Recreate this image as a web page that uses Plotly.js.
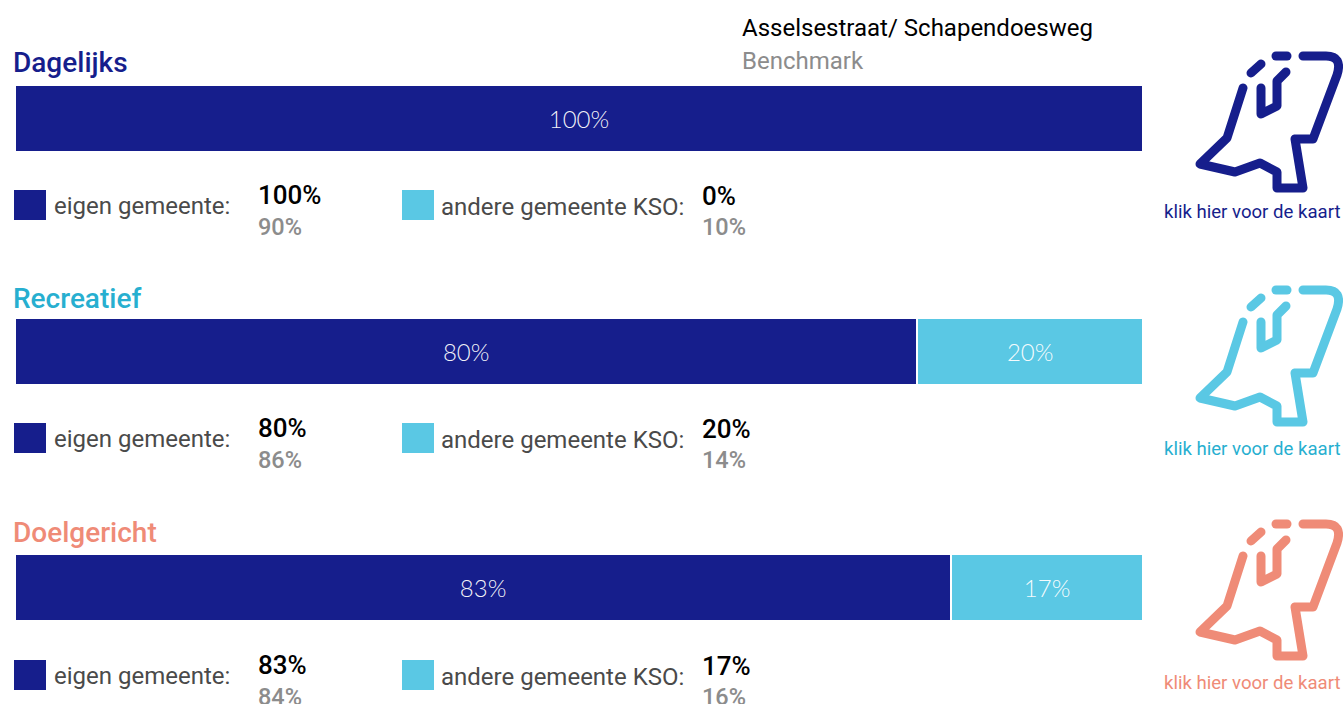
<!DOCTYPE html>
<html><head><meta charset="utf-8">
<script src="https://cdn.plot.ly/plotly-3.0.1.min.js"></script>
<style>html,body{margin:0;padding:0;background:#fff;overflow:hidden}
.shapelayer path{stroke-linecap:round;stroke-linejoin:round}</style>
</head><body><div id="chart" style="width:1343px;height:704px"></div>
<script>
const categories = ['Dagelijks','Recreatief','Doelgericht'];
const eigenGemeente = [100,80,83];
const andereGemeente = [0,20,17];
const benchEigen = [90,86,84];
const benchAndere = [10,14,16];
const seriesNames = ['eigen gemeente:','andere gemeente KSO:'];
const mapLabel = 'klik hier voor de kaart';
const locationTitle = 'Asselsestraat/ Schapendoesweg';
const benchTitle = 'Benchmark';

const W=1343,H=704,L=15,R=1143;
const NAVY='#161E8C',SKY='#5AC8E4',SALMON='#EF8B77';
const catColors=[NAVY,'#27AFD0',SALMON];
const iconColors=[NAVY,SKY,SALMON];
const barTop=[85,318,554], barH=67;
const titleY=[63,298,532];
const legY=[206,439,676], sqTop=[190,423,660];
const valY=[195,428,665], benchY=[227,460,697];
const iconDy=[0,234,468], mapTextY=[212,449,683];
const px=x=>(x-L)/(R-L), py=y=>1-y/H;

const data=[],layout={width:W,height:H,margin:{l:L,r:W-R,t:0,b:0,pad:0},
  paper_bgcolor:'#fff',plot_bgcolor:'#fff',showlegend:false,barmode:'stack',bargap:0,
  font:{family:'Roboto'},annotations:[],shapes:[],hovermode:false};
const ann=(x,y,text,size,color,weight,anchor)=>layout.annotations.push({xref:'paper',yref:'paper',
  x:px(x),y:py(y),text,showarrow:false,xanchor:anchor||'left',yanchor:'middle',borderpad:0,
  font:{family:'Roboto',size,color,weight:weight||400}});
const pct=v=>v+'%';

categories.forEach((c,i)=>{
  const ya=i===0?'y':'y'+(i+1), xa=i===0?'x':'x'+(i+1);
  const mk=(v,col)=>({type:'bar',orientation:'h',y:[c],x:[v],xaxis:xa,yaxis:ya,
    marker:{color:col,line:{color:'#fff',width:2}},
    text:[v>0?pct(v):''],textposition:'inside',insidetextanchor:'middle',textangle:0,
    constraintext:'none',cliponaxis:false,
    insidetextfont:{family:'Lato Light, Lato',size:24,color:'rgba(255,255,255,0.95)',weight:300}});
  data.push(mk(eigenGemeente[i],NAVY),mk(andereGemeente[i],SKY));
  const n=i===0?'':String(i+1);
  layout['xaxis'+n]={domain:[0,1],range:[0,100],visible:false,fixedrange:true,anchor:'y'+n};
  layout['yaxis'+n]={domain:[py(barTop[i]+barH),py(barTop[i])],visible:false,fixedrange:true,anchor:'x'+n,type:'category'};

  ann(12,titleY[i],c,28,catColors[i],500);
  [[14,46,NAVY],[402,434,SKY]].forEach(s=>layout.shapes.push({type:'rect',xref:'paper',yref:'paper',
    x0:px(s[0]),x1:px(s[1]),y0:py(sqTop[i]),y1:py(sqTop[i]+30),fillcolor:s[2],line:{width:0}}));
  ann(53,legY[i],seriesNames[0],24,'#4a4a4a');
  ann(440,legY[i]+1,seriesNames[1],24,'#4a4a4a');
  ann(257,valY[i],pct(eigenGemeente[i]),26,'#000',500);
  ann(257,benchY[i],pct(benchEigen[i]),23.5,'#8c8c8c',500);
  ann(701,valY[i]+1,pct(andereGemeente[i]),26,'#000',500);
  ann(701,benchY[i],pct(benchAndere[i]),23.5,'#8c8c8c',500);

  const P=(x,y)=>px(x)+','+py(y+iconDy[i]);
  const icon=[
    'M'+P(1243,88)+'L'+P(1227,138)+'L'+P(1200,164)+'L'+P(1235,172)+'L'+P(1260,163)+'L'+P(1277,172)+'L'+P(1277,188)+'L'+P(1303,188)+'L'+P(1295,139)+'L'+P(1313,139)+'L'+P(1337,75)+'Q'+P(1343,56)+' '+P(1326,56)+'L'+P(1303,56),
    'M'+P(1261,88)+'L'+P(1261,114)+'L'+P(1277,106)+'L'+P(1277,81)+'L'+P(1286,72),
    'M'+P(1251,73)+'L'+P(1261,64),
    'M'+P(1276,56)+'L'+P(1287,56)
  ];
  icon.forEach(p=>layout.shapes.push({type:'path',xref:'paper',yref:'paper',path:p,
    line:{color:iconColors[i],width:9},fillcolor:'rgba(0,0,0,0)'}));
  ann(1252,mapTextY[i],mapLabel,18.6,catColors[i],400,'center');
});
ann(741,28,locationTitle,24,'#000');
ann(741,61,benchTitle,24,'#8c8c8c');
Plotly.newPlot('chart',data,layout,{displayModeBar:false,staticPlot:true});
</script></body></html>
